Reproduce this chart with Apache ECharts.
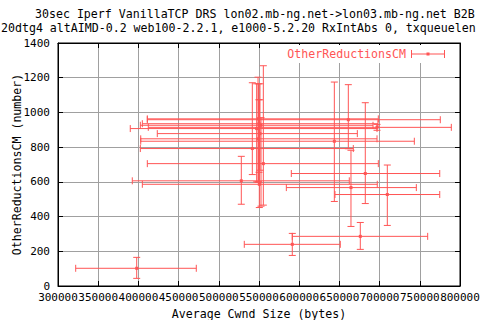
<!DOCTYPE html>
<html>
<head>
<meta charset="utf-8">
<script src="https://cdn.jsdelivr.net/npm/echarts@6/dist/echarts.min.js"></script>
<style>html,body{margin:0;padding:0;background:#fff}#c{width:480px;height:320px}</style>
</head>
<body>
<div id="c"></div>
<script>
// Data: average cwnd (x) with min/max, OtherReductionsCM (y) with min/max
var xCenter = [397900, 591400, 676000, 709600, 682200, 664400, 528000, 643700, 661100, 696800, 541700, 550400, 555400, 548800, 551200, 547100, 550000, 549400, 552500];
var xLow    = [322000, 531700, 591400, 644500, 590200, 584000, 392400, 402900, 411100, 412300, 402400, 404900, 411100, 402900, 423500, 389900, 404900, 411100, 402400];
var xHigh   = [472000, 651100, 759800, 774800, 774800, 745700, 662300, 743200, 775500, 789200, 667300, 697100, 698400, 696800, 672300, 696800, 698000, 698400, 691800];
var yCenter = [102, 240, 286, 527, 648, 567, 606, 834, 958, 914, 792, 586, 705, 848, 878, 907, 935, 963, 926];
var yLow    = [44, 176, 211, 349, 475, 343, 471, 487, 791, 897, 642, 452, 466, 598, 667, 600, 655, 600, 460];
var yHigh   = [165, 303, 366, 697, 1056, 782, 747, 1175, 1160, 931, 1171, 1073, 1269, 1203, 1165, 1165, 1073, 1165, 970];
var xTicks = [300000, 350000, 400000, 450000, 500000, 550000, 600000, 650000, 700000, 750000, 800000];
var yTicks = [0, 200, 400, 600, 800, 1000, 1200, 1400];
var seriesName = 'OtherReductionsCM';

var RED = '#ff5555';
var FONT = 'DejaVu Sans Mono';
var data = xCenter.map(function (x, i) {
  return [x, yCenter[i], xLow[i], xHigh[i], yLow[i], yHigh[i]];
});

function renderItem(params, api) {
  var c = api.coord([api.value(0), api.value(1)]);
  var xl = api.coord([api.value(2), api.value(1)]);
  var xh = api.coord([api.value(3), api.value(1)]);
  var yl = api.coord([api.value(0), api.value(4)]);
  var yh = api.coord([api.value(0), api.value(5)]);
  var cap = 3.5;
  var st = {stroke: RED, lineWidth: 1, fill: null};
  function ln(x1, y1, x2, y2) {
    return {type: 'line', shape: {x1: x1, y1: y1, x2: x2, y2: y2}, style: st};
  }
  return {
    type: 'group',
    children: [
      ln(xl[0], c[1], xh[0], c[1]),
      ln(xl[0], c[1] - cap, xl[0], c[1] + cap),
      ln(xh[0], c[1] - cap, xh[0], c[1] + cap),
      ln(c[0], yl[1], c[0], yh[1]),
      ln(c[0] - cap, yl[1], c[0] + cap, yl[1]),
      ln(c[0] - cap, yh[1], c[0] + cap, yh[1]),
      {type: 'rect', shape: {x: c[0] - 1.5, y: c[1] - 1.5, width: 3, height: 3}, style: {fill: RED}}
    ]
  };
}

var chart = echarts.init(document.getElementById('c'), null, {renderer: 'svg'});
var axisFont = {fontFamily: FONT, fontSize: 11, color: '#000'};
chart.setOption({
  animation: false,
  backgroundColor: '#fff',
  title: [
    {text: '30sec Iperf VanillaTCP DRS lon02.mb-ng.net->lon03.mb-ng.net B2B', left: 35, top: 8, padding: 0,
     textStyle: {fontFamily: FONT, fontSize: 11.6, lineHeight: 12, fontWeight: 'normal', color: '#000'}},
    {text: '20dtg4 altAIMD-0.2 web100-2.2.1, e1000-5.2.20 RxIntAbs 0, txqueuelen', left: 1, top: 21.5, padding: 0,
     textStyle: {fontFamily: FONT, fontSize: 11.6, lineHeight: 12, fontWeight: 'normal', color: '#000'}}
  ],
  grid: {left: 58, right: 20, top: 43, bottom: 34, show: true, borderColor: '#000', borderWidth: 1,
         backgroundColor: 'transparent', containLabel: false, outerBoundsMode: 'none'},
  legend: {
    data: [{name: seriesName, icon: 'path://M0,4.5h34v1h-34z M0,1h1v8h-1z M33,1h1v8h-1z M15.5,3.5h3v3h-3z'}],
    align: 'right', right: 27, top: 45, itemWidth: 34, itemHeight: 9, itemGap: 0,
    backgroundColor: '#fff', padding: [3, 8, 3, 4],
    textStyle: {fontFamily: FONT, fontSize: 11.6, color: RED}
  },
  xAxis: [{
    type: 'value', min: 300000, max: 800000, interval: 50000, position: 'bottom',
    name: 'Average Cwnd Size (bytes)', nameLocation: 'middle', nameGap: 21,
    nameTextStyle: {fontFamily: FONT, fontSize: 11.6, color: '#000'},
    axisLine: {show: true, onZero: false, lineStyle: {color: '#000', width: 1}},
    axisTick: {show: true, inside: true, length: 5, lineStyle: {color: '#000'}},
    axisLabel: Object.assign({margin: 6, interval: 0, hideOverlap: false, showMinLabel: true, showMaxLabel: true,
      formatter: function (v) { return String(v); }}, axisFont),
    splitLine: {show: true, lineStyle: {color: '#a0a0a0', width: 1}}
  }, {
    type: 'value', min: 300000, max: 800000, interval: 50000, position: 'top',
    axisLine: {show: true, onZero: false, lineStyle: {color: '#000'}},
    axisTick: {show: true, inside: true, length: 5, lineStyle: {color: '#000'}},
    axisLabel: {show: false}, splitLine: {show: false}
  }],
  yAxis: [{
    type: 'value', min: 0, max: 1400, interval: 200, position: 'left',
    name: 'OtherReductionsCM (number)', nameLocation: 'middle', nameGap: 35, nameRotate: 90,
    nameMoveOverlap: false,
    nameTextStyle: {fontFamily: FONT, fontSize: 11.6, color: '#000'},
    axisLine: {show: true, onZero: false, lineStyle: {color: '#000', width: 1}},
    axisTick: {show: true, inside: true, length: 5, lineStyle: {color: '#000'}},
    axisLabel: Object.assign({margin: 8, showMinLabel: true, showMaxLabel: true,
      formatter: function (v) { return String(v); }}, axisFont),
    splitLine: {show: true, lineStyle: {color: '#a0a0a0', width: 1}}
  }, {
    type: 'value', min: 0, max: 1400, interval: 200, position: 'right',
    axisLine: {show: true, onZero: false, lineStyle: {color: '#000'}},
    axisTick: {show: true, inside: true, length: 5, lineStyle: {color: '#000'}},
    axisLabel: {show: false}, splitLine: {show: false}
  }],
  series: [{
    name: seriesName, type: 'custom', xAxisIndex: 0, yAxisIndex: 0,
    itemStyle: {color: RED},
    renderItem: renderItem,
    encode: {x: [0, 2, 3], y: [1, 4, 5]},
    data: data,
    z: 3
  }]
});
</script>
</body>
</html>
